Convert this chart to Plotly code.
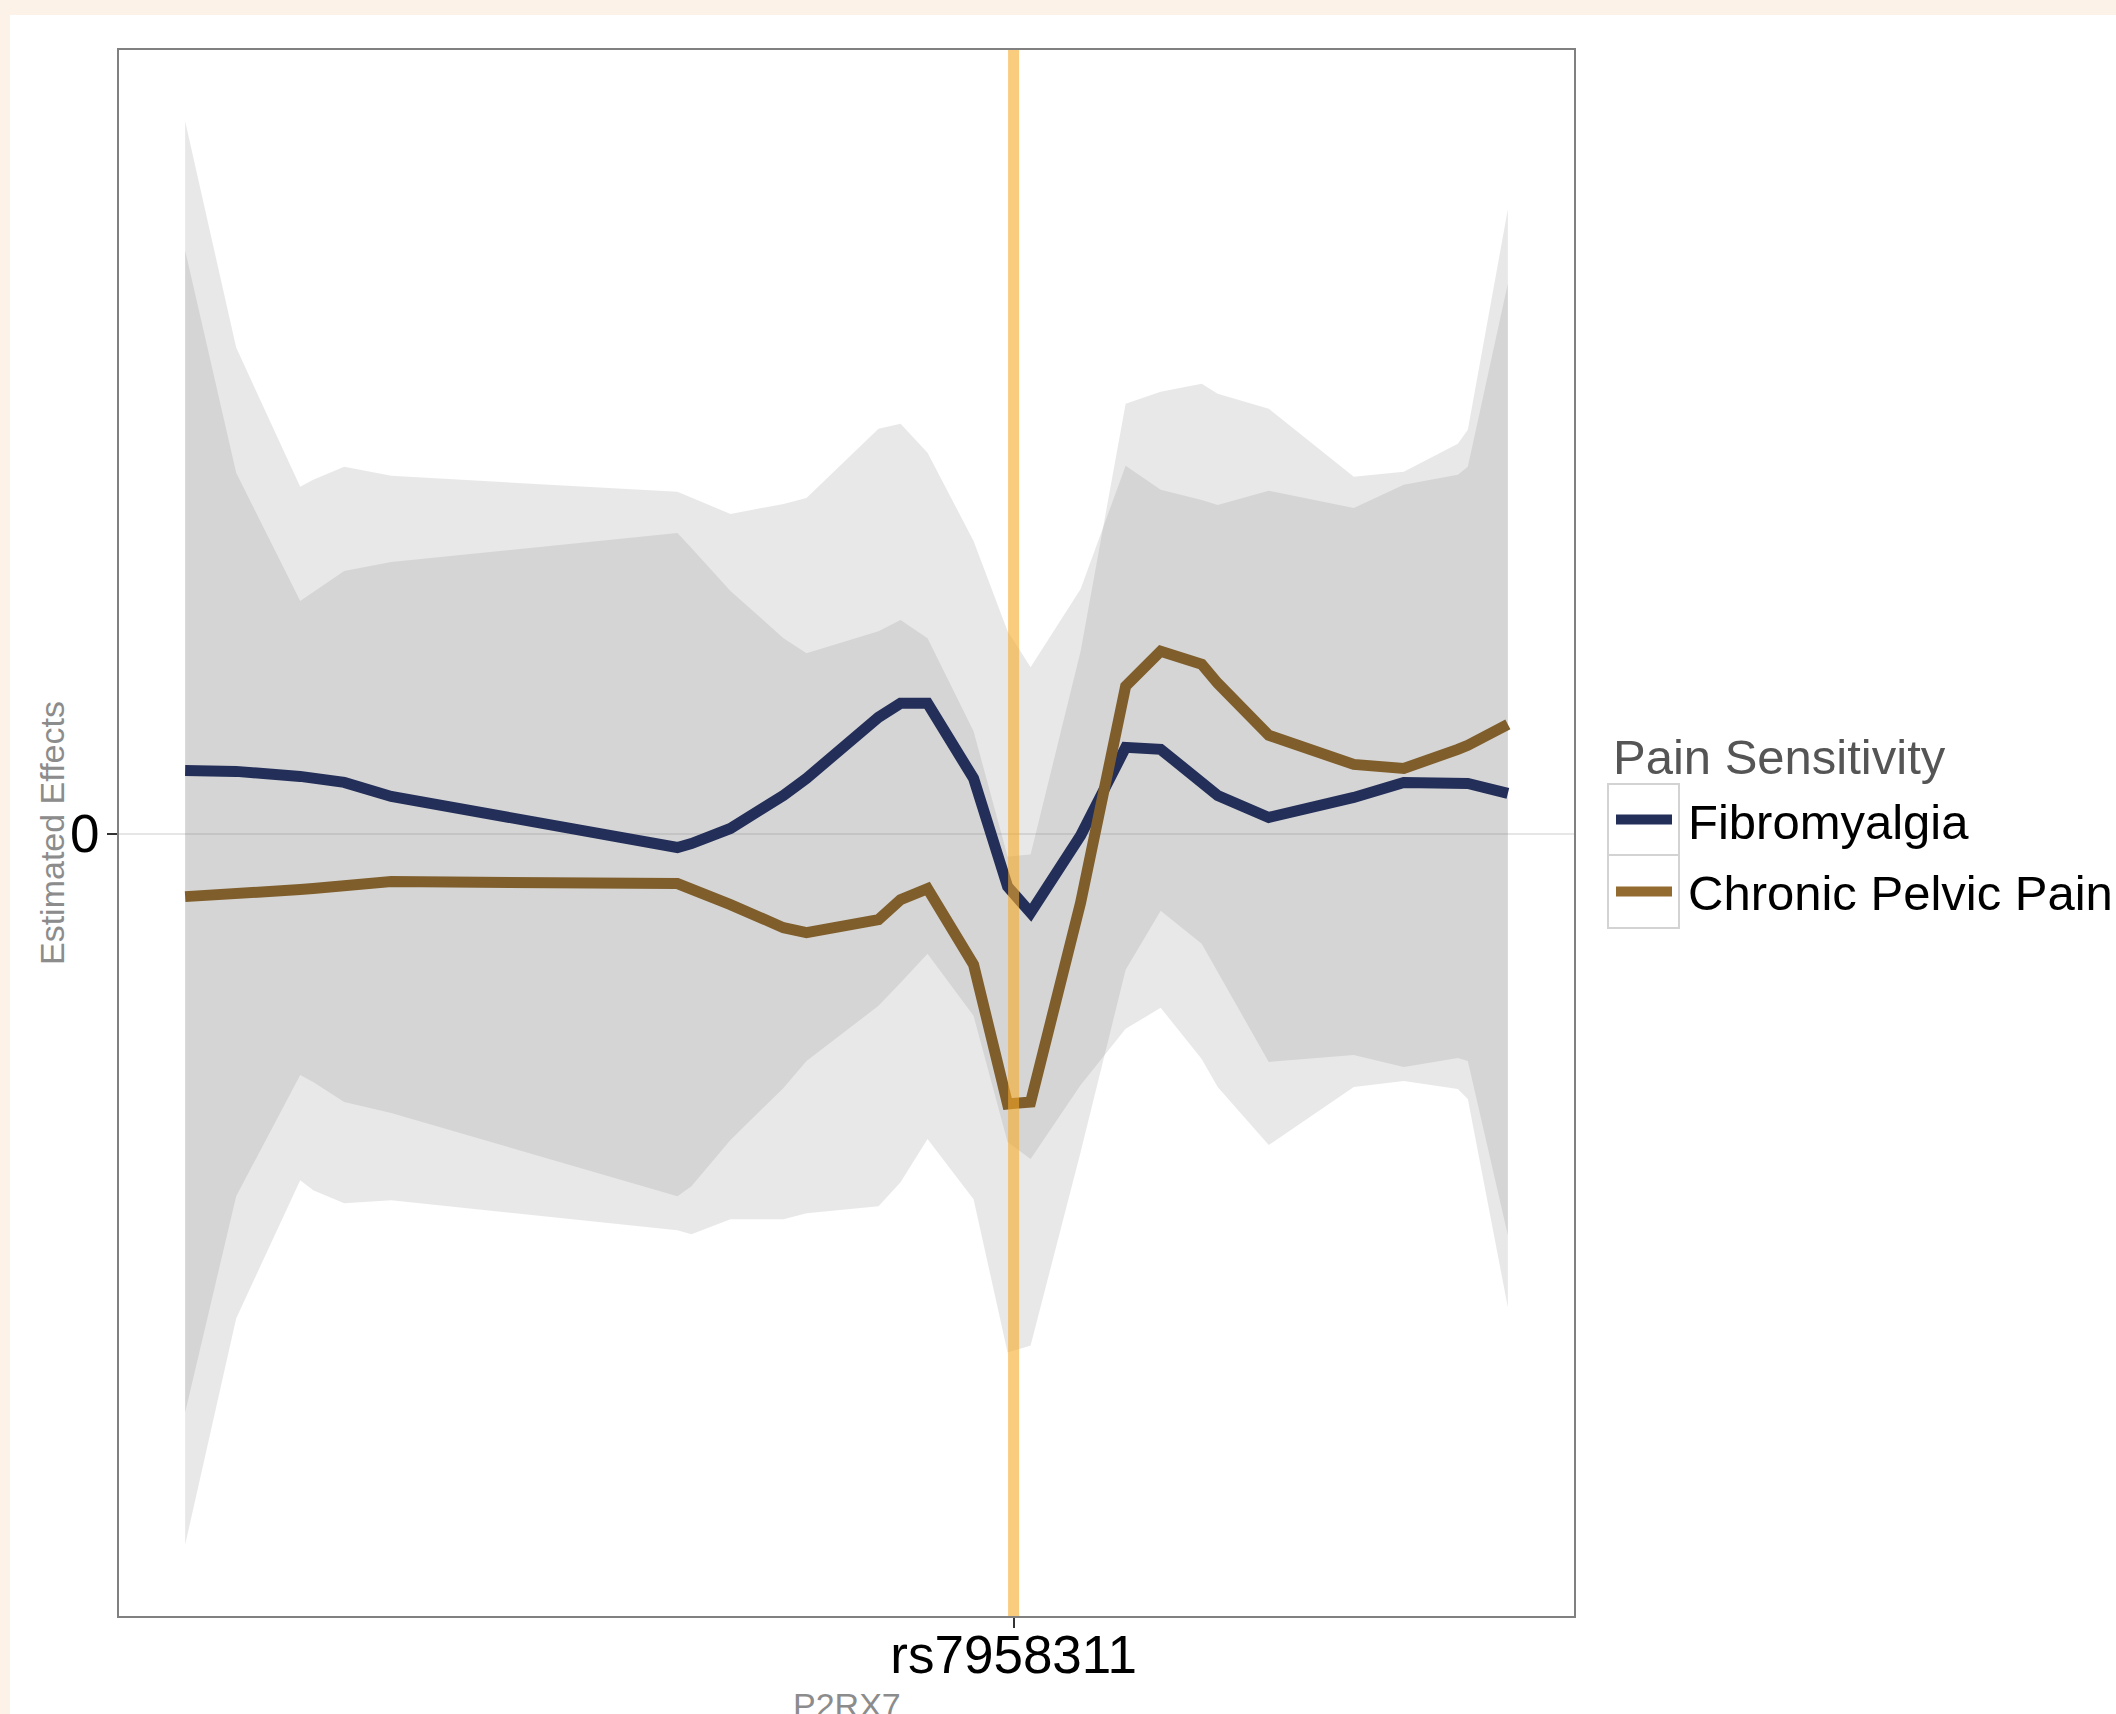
import plotly.graph_objects as go

# ---------------- data ----------------
# relative position along the P2RX7 region (kb)
pos = [0, 51, 115, 128, 159, 206, 492, 506, 545, 598, 621, 693, 715, 742, 788,
       822, 845, 895, 940, 975, 1016, 1032, 1083, 1168, 1218, 1272, 1282, 1322]

fm_est = [0.063, 0.062, 0.057, 0.056, 0.051, 0.037, -0.014, -0.010, 0.005, 0.038,
          0.055, 0.116, 0.130, 0.130, 0.055, -0.053, -0.079, -0.002, 0.086, 0.084,
          0.053, 0.038, 0.016, 0.036, 0.051, 0.052, 0.050, 0.040]
fm_hi = [0.711, 0.485, 0.346, 0.353, 0.366, 0.357, 0.341, 0.335, 0.319, 0.329,
         0.335, 0.404, 0.409, 0.380, 0.292, 0.202, 0.166, 0.244, 0.367, 0.343,
         0.333, 0.328, 0.342, 0.325, 0.348, 0.358, 0.366, 0.549]
fm_lo = [-0.578, -0.362, -0.241, -0.248, -0.268, -0.279, -0.362, -0.352, -0.306, -0.254,
         -0.227, -0.172, -0.149, -0.120, -0.182, -0.308, -0.325, -0.251, -0.195, -0.174,
         -0.225, -0.253, -0.311, -0.253, -0.247, -0.255, -0.265, -0.473]

cpp_est = [-0.063, -0.061, -0.056, -0.055, -0.052, -0.048, -0.050, -0.055, -0.071, -0.094,
           -0.099, -0.086, -0.066, -0.055, -0.131, -0.270, -0.268, -0.069, 0.147, 0.182,
           0.169, 0.150, 0.098, 0.069, 0.065, 0.084, 0.088, 0.109]
cpp_hi = [0.582, 0.360, 0.232, 0.241, 0.262, 0.271, 0.300, 0.285, 0.242, 0.195,
          0.180, 0.202, 0.213, 0.195, 0.102, -0.023, -0.021, 0.182, 0.429, 0.441,
          0.449, 0.439, 0.424, 0.356, 0.361, 0.389, 0.403, 0.623]
cpp_lo = [-0.710, -0.484, -0.346, -0.356, -0.369, -0.366, -0.396, -0.400, -0.385, -0.385,
          -0.379, -0.372, -0.348, -0.305, -0.365, -0.518, -0.511, -0.318, -0.136, -0.077,
          -0.110, -0.138, -0.228, -0.221, -0.233, -0.224, -0.227, -0.401]

snp_pos = [828]
snp_labels = ["rs7958311"]
y_ticks = [0]
y_tick_labels = ["0"]

series = ["Fibromyalgia", "Chronic Pelvic Pain"]
legend_title = "Pain Sensitivity"
x_title = "P2RX7"
y_title = "Estimated Effects"

# ---------------- styling ----------------
W, H = 2116, 1714
L, R, T, B = 119, 542, 50, 98
FONT = "Liberation Sans, Arial, Helvetica, sans-serif"
BLUE = "#232F59"
BROWN = "#7F5E2C"
BROWN_KEY = "#936A30"
RIBBON = "rgba(130,130,130,0.18)"
PEACH = "#FDF2E7"


def pxx(x):
    return (x - L) / (W - L - R)


def pxy(y):
    return (H - B - y) / (H - T - B)


fig = go.Figure()

for lo, hi in [(fm_lo, fm_hi), (cpp_lo, cpp_hi)]:
    fig.add_trace(go.Scatter(
        x=pos + pos[::-1], y=hi + lo[::-1], fill="toself", fillcolor=RIBBON,
        line=dict(width=0), mode="lines", hoverinfo="skip", showlegend=False))

fig.add_trace(go.Scatter(x=pos, y=fm_est, mode="lines", name=series[0],
                         line=dict(color=BLUE, width=11), showlegend=False))
fig.add_trace(go.Scatter(x=pos, y=cpp_est, mode="lines", name=series[1],
                         line=dict(color=BROWN, width=11), showlegend=False))

# ggplot-like 5% expansion
xmin, xmax = min(pos), max(pos)
xs = xmax - xmin
ymin = min(fm_lo + cpp_lo)
ymax = max(fm_hi + cpp_hi)
ys = ymax - ymin

# highlighted SNP
for p in snp_pos:
    fig.add_shape(type="line", xref="x", yref="paper", x0=p, x1=p, y0=0, y1=1,
                  line=dict(color="rgba(247,170,40,0.6)", width=11), layer="above")

# background peach strips
fig.add_shape(type="rect", xref="paper", yref="paper", x0=pxx(0), x1=pxx(W),
              y0=pxy(15), y1=pxy(0), fillcolor=PEACH, line=dict(width=0), layer="below")
fig.add_shape(type="rect", xref="paper", yref="paper", x0=pxx(0), x1=pxx(10),
              y0=pxy(H), y1=pxy(0), fillcolor=PEACH, line=dict(width=0), layer="below")

# manual legend (ggplot-style keys)
key_x0, key_x1 = 1608, 1679
key_rows = [(784, 855), (855, 928)]
key_colors = [BLUE, BROWN_KEY]
for (y0, y1), col, name in zip(key_rows, key_colors, series):
    fig.add_shape(type="rect", xref="paper", yref="paper",
                  x0=pxx(key_x0), x1=pxx(key_x1), y0=pxy(y1), y1=pxy(y0),
                  line=dict(color="#D3D3D3", width=2), fillcolor="white")
    yc = (y0 + y1) / 2
    fig.add_shape(type="line", xref="paper", yref="paper",
                  x0=pxx(1616), x1=pxx(1672), y0=pxy(yc), y1=pxy(yc),
                  line=dict(color=col, width=10))
    fig.add_annotation(text=name, xref="paper", yref="paper", x=pxx(1686), y=pxy(yc + 2),
                       xanchor="left", yanchor="middle", showarrow=False,
                       font=dict(family=FONT, size=49, color="black"))

fig.add_annotation(text=legend_title, xref="paper", yref="paper", x=pxx(1611), y=pxy(757),
                   xanchor="left", yanchor="middle", showarrow=False,
                   font=dict(family=FONT, size=49, color="#555555"))

# axis titles
fig.add_annotation(text=y_title, xref="paper", yref="paper", x=pxx(52), y=0.5,
                   xanchor="center", yanchor="middle", textangle=-90, showarrow=False,
                   font=dict(family=FONT, size=34, color="#8C8C8C"))
fig.add_annotation(text=x_title, xref="paper", yref="paper", x=0.5, y=pxy(1684),
                   xanchor="center", yanchor="top", showarrow=False,
                   font=dict(family=FONT, size=34, color="#8C8C8C"))

fig.update_layout(
    width=W, height=H,
    margin=dict(l=L, r=R, t=T, b=B, autoexpand=False),
    paper_bgcolor="white", plot_bgcolor="white",
    font=dict(family=FONT, color="black"),
    showlegend=False,
    xaxis=dict(range=[xmin - 0.05 * xs, xmax + 0.05 * xs], tickvals=snp_pos, ticktext=snp_labels,
               showgrid=False, zeroline=False, showline=True, mirror=True,
               linecolor="#808080", linewidth=2, ticks="outside", ticklen=10,
               tickwidth=2, tickcolor="#333333", tickfont=dict(size=53, color="black"),
               ticklabelstandoff=-19, automargin=False),
    yaxis=dict(range=[ymin - 0.05 * ys, ymax + 0.05 * ys], tickvals=y_ticks, ticktext=y_tick_labels,
               showgrid=True, gridcolor="#E6E6E6", gridwidth=1.5, zeroline=False,
               showline=True, mirror=True, linecolor="#808080", linewidth=2,
               ticks="outside", ticklen=10, tickwidth=2, tickcolor="#333333",
               tickfont=dict(size=53, color="black"), ticklabelstandoff=-3,
               automargin=False),
)

fig.write_html("out.html", config={"displayModeBar": False},
               post_script="document.body.style.margin='0';document.body.style.overflow='hidden';")
